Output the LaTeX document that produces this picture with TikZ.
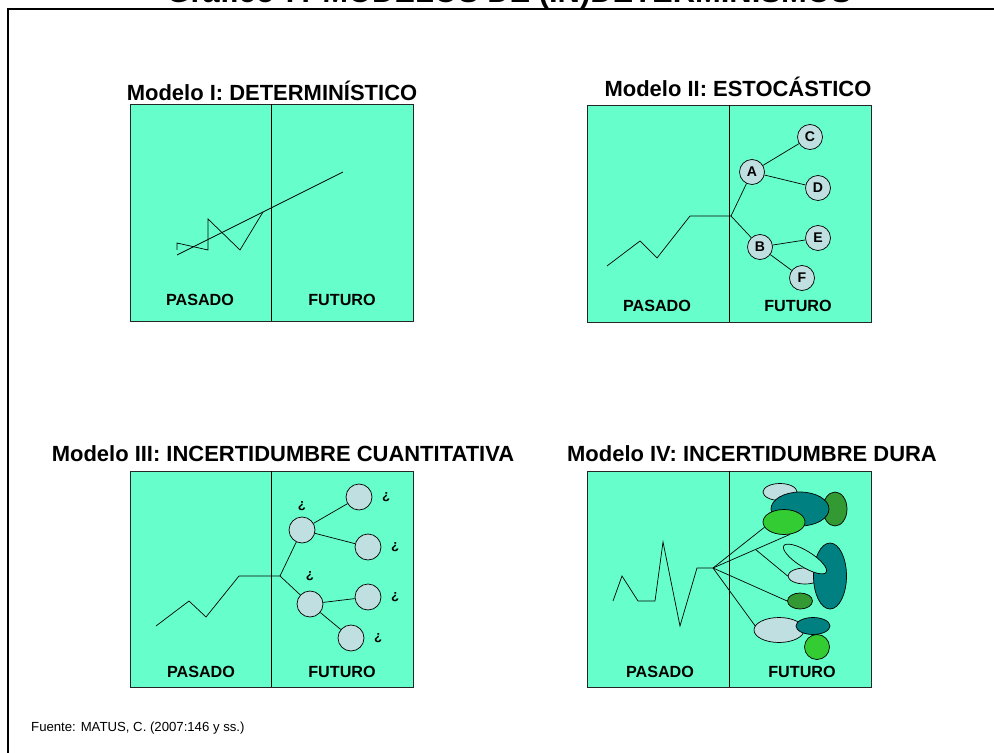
\documentclass[tikz,border=0pt]{standalone}
\usepackage{fontspec}
\setmainfont{Liberation Sans}
\usetikzlibrary{shapes.geometric,calc}
\pgfdeclarelayer{bg}
\pgfsetlayers{bg,main}
\definecolor{menta}{HTML}{66FFCC}
\definecolor{celeste}{HTML}{C0DFE0}
\definecolor{petroleo}{HTML}{008080}
\definecolor{verdeosc}{HTML}{339933}
\definecolor{verdecl}{HTML}{33CC33}
\tikzset{
  panel/.style={draw=black!85, fill=menta, line width=0.45pt},
  titulo/.style={font=\fontsize{17.6}{20}\selectfont\bfseries, anchor=base},
  ttl/.style={font=\fontsize{12.5}{14}\selectfont\bfseries, anchor=base},
  tiempo/.style={font=\fontsize{9.2}{11}\selectfont\bfseries, anchor=base},
  bola/.style={circle, draw, fill=celeste, inner sep=0pt, font=\fontsize{8}{9}\selectfont\bfseries},
  duda/.style={font=\fontsize{7.5}{8}\selectfont\bfseries},
  mancha/.style={ellipse, draw, inner sep=0pt},
}

\begin{document}
\begin{tikzpicture}[x=0.02cm, y=-0.02cm, line width=0.5pt]
        \useasboundingbox (0,0) rectangle (994,753);
        \draw[line width=1.5pt] (1010,9) -- (8,9) -- (8,770);
        \node (t0) [titulo] at (509,3) {Gráfico 7: MODELOS DE (IN)DETERMINISMOS};
        \begin{pgfonlayer}{bg}
                \draw[panel] (130,104) rectangle (413,321);
                \draw[panel] (587,105) rectangle (871,322);
                \draw[panel] (130,471) rectangle (413,687);
                \draw[panel] (587,471) rectangle (871,687);
                \draw (271,104) -- (271,321);
                \draw (729,105) -- (729,322);
                \draw (271,471) -- (271,687);
                \draw (729,471) -- (729,687);
        \end{pgfonlayer}
        % Modelo I
        \node (t1) [ttl] at (272,101) {Modelo I: DETERMINÍSTICO};
        \draw (177,250) -- (177,243) -- (208,250) -- (208,219) -- (240,250) -- (263,212);
        \draw (177,255) -- (343,172);
        \node (p1) [tiempo] at (200,305) {PASADO};
        \node (f1) [tiempo] at (342,305) {FUTURO};
        % Modelo II
        \node (t2) [ttl] at (738,97) {Modelo II: ESTOCÁSTICO};
        \coordinate (h2) at (731,216);
        \draw (607,266) -- (640,241) -- (657,258) -- (690,216) -- (h2);
        \node (a) [bola, minimum size=0.5cm] at (752,172) {A};
        \node (b) [bola, minimum size=0.5cm] at (760,247) {B};
        \node (c) [bola, minimum size=0.5cm] at (810,137) {C};
        \node (d) [bola, minimum size=0.5cm] at (818,188) {D};
        \node (e) [bola, minimum size=0.5cm] at (818,238) {E};
        \node (f) [bola, minimum size=0.5cm] at (802,278) {F};
        \node (p2) [tiempo] at (657,312) {PASADO};
        \node (f2) [tiempo] at (798,312) {FUTURO};
        % Modelo III
        \node (t3) [ttl] at (283,461) {Modelo III: INCERTIDUMBRE CUANTITATIVA};
        \coordinate (h3) at (280,576);
        \draw (156,626) -- (189,601) -- (206,617) -- (239,576) -- (h3);
        \node (q1) [bola, minimum size=0.52cm, label={[duda]above:¿}] at (302,530) {};
        \node (q2) [bola, minimum size=0.52cm, label={[duda, label distance=2pt]above:¿}] at (310,604) {};
        \node (q3) [bola, minimum size=0.52cm, label={[duda, label distance=2pt]right:¿}] at (359,497) {};
        \node (q4) [bola, minimum size=0.52cm, label={[duda, label distance=2pt]right:¿}] at (368,547) {};
        \node (q5) [bola, minimum size=0.52cm, label={[duda, label distance=2pt]right:¿}] at (368,597) {};
        \node (q6) [bola, minimum size=0.52cm, label={[duda, label distance=2pt]right:¿}] at (351,638) {};
        \node (p3) [tiempo] at (201,677) {PASADO};
        \node (f3) [tiempo] at (342,677) {FUTURO};
        % Modelo IV
        \node (t4) [ttl] at (752,461) {Modelo IV: INCERTIDUMBRE DURA};
        \coordinate (h4) at (713,568);
        \draw (613,601) -- (622,576) -- (638,601) -- (655,601) -- (663,542) -- (680,626) -- (697,568) -- (h4);
        \node (d1) [mancha, fill=verdeosc, minimum width=0.48cm, minimum height=0.68cm] at (835,509) {};
        \node (c1) [mancha, fill=celeste, minimum width=0.68cm, minimum height=0.34cm] at (780,492) {};
        \node (s1) [mancha, fill=petroleo, minimum width=1.16cm, minimum height=0.68cm] at (800,509) {};
        \node (g1) [mancha, fill=verdecl, minimum width=0.84cm, minimum height=0.5cm] at (784,522) {};
        \node (c2) [mancha, fill=celeste, minimum width=0.68cm, minimum height=0.32cm] at (805,576) {};
        \node (s2) [mancha, fill=petroleo, minimum width=0.66cm, minimum height=1.32cm] at (830,576) {};
        \node (o2) [mancha, fill=menta, minimum width=1cm, minimum height=0.32cm, rotate=-32] at (805,559) {};
        \node (d2) [mancha, fill=verdeosc, minimum width=0.5cm, minimum height=0.32cm] at (800,601) {};
        \node (c3) [mancha, fill=celeste, minimum width=1cm, minimum height=0.5cm] at (779,630) {};
        \node (s3) [mancha, fill=petroleo, minimum width=0.68cm, minimum height=0.34cm] at (813,626) {};
        \node (g3) [mancha, fill=verdecl, minimum width=0.5cm, minimum height=0.5cm] at (817,647) {};
        \coordinate (k4) at ($(h4)!0.55!(g1.297)$);
        \node (p4) [tiempo] at (660,677) {PASADO};
        \node (f4) [tiempo] at (802,677) {FUTURO};
        \node (v0) [anchor=base west, font=\fontsize{7.5}{9}\selectfont] at (25,731) {Fuente: MATUS, C. (2007:146 y ss.)};
        \begin{pgfonlayer}{bg}
                \draw (h2) edge (a);
                \draw (h2) edge (b);
                \draw (a) edge (c);
                \draw (a) edge (d);
                \draw (b) edge (e);
                \draw (b) edge (f);
                \draw (h3) edge (q1);
                \draw (h3) edge (q2);
                \draw (q1) edge (q3);
                \draw (q1) edge (q4);
                \draw (q2) edge (q5);
                \draw (q2) edge (q6);
                \draw (h4) edge (g1.195);
                \draw (h4) edge (g1.297);
                \draw (k4) edge (c2.west);
                \draw (h4) edge (d2.west);
                \draw (h4) edge (c3.170);
        \end{pgfonlayer}
\end{tikzpicture}
\end{document}
